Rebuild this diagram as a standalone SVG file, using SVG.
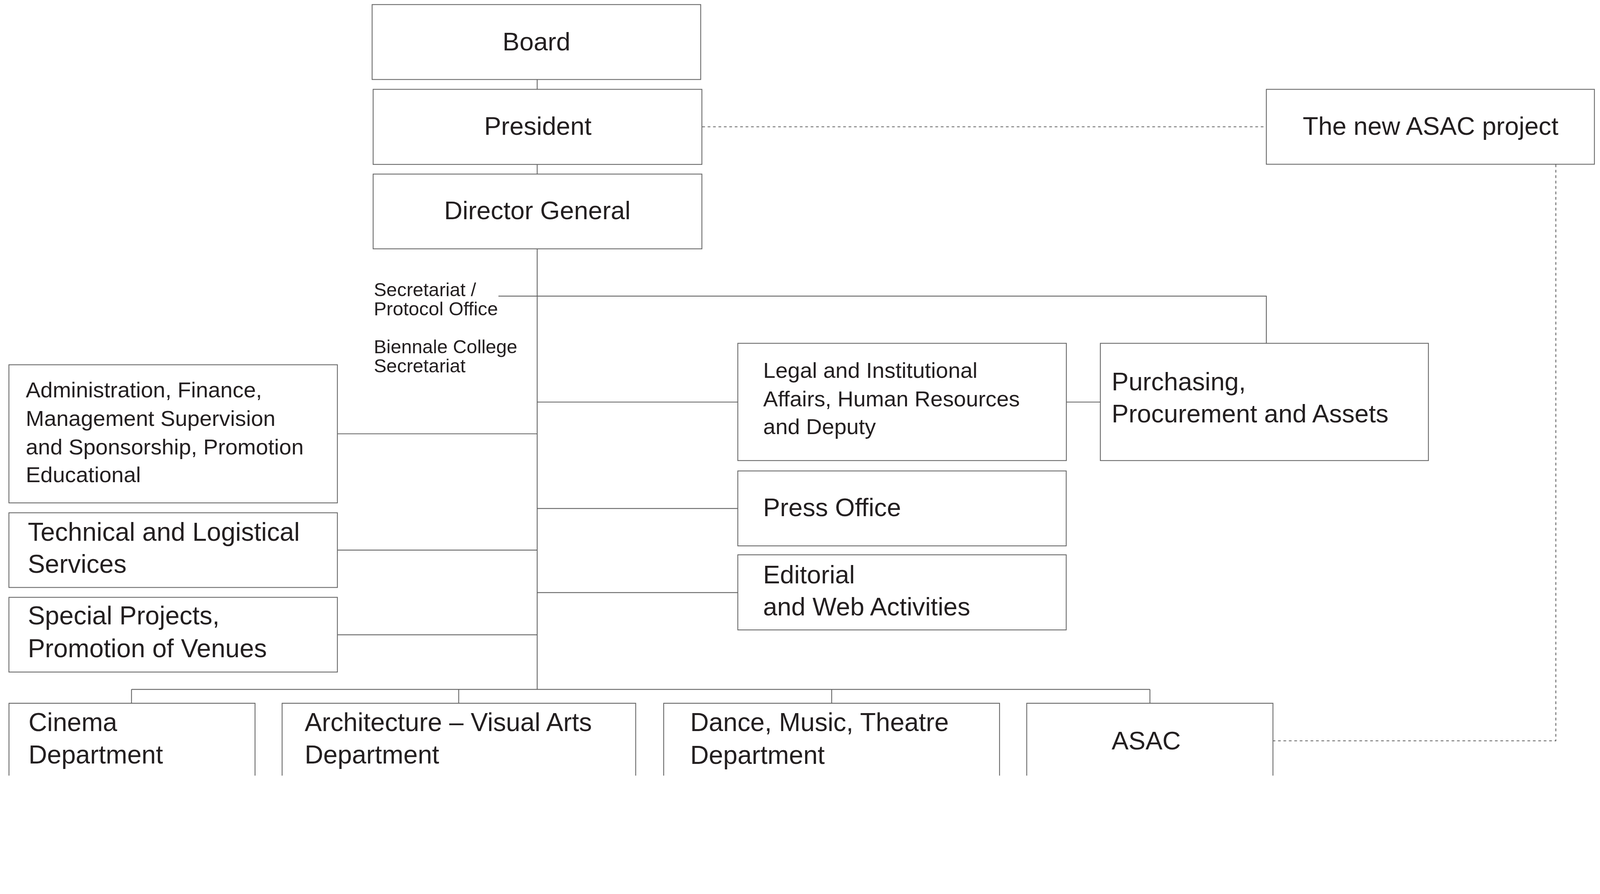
<svg xmlns="http://www.w3.org/2000/svg" width="4721" height="2288" viewBox="0 0 4721 2288" preserveAspectRatio="xMinYMin meet">
<style>
  svg:root { width: 100vw; height: 100vh; }
  .box { fill: #ffffff; stroke: #666666; stroke-width: 2.5; }
  .ln { fill: none; stroke: #626262; stroke-width: 2.5; }
  .dash { fill: none; stroke: #626262; stroke-width: 2.5; stroke-dasharray: 8 8; }
  text { font-family: "Liberation Sans", Arial, Helvetica, sans-serif; fill: #231f20; }
  .t75 { font-size: 75px; }
  .t76 { font-size: 76px; }
  .t65 { font-size: 65px; }
  .t55 { font-size: 56px; }
  .c { text-anchor: middle; }
</style>
<rect x="0" y="0" width="4721" height="2288" fill="#ffffff"/>

<g id="connectors">
  <line class="ln" x1="1585" y1="234.5" x2="1585" y2="263.5"/>
  <line class="ln" x1="1585" y1="485" x2="1585" y2="513.5"/>
  <line class="ln" x1="1585" y1="734" x2="1585" y2="2033.5"/>
  <polyline class="ln" points="1470.7,873.5 3736.5,873.5 3736.5,1012.7"/>
  <line class="ln" x1="995.5" y1="1279.7" x2="1585" y2="1279.7"/>
  <line class="ln" x1="995.5" y1="1622.7" x2="1585" y2="1622.7"/>
  <line class="ln" x1="995.5" y1="1872.5" x2="1585" y2="1872.5"/>
  <line class="ln" x1="1585" y1="1186" x2="2177" y2="1186"/>
  <line class="ln" x1="1585" y1="1500" x2="2177" y2="1500"/>
  <line class="ln" x1="1585" y1="1748" x2="2177" y2="1748"/>
  <line class="ln" x1="3146.4" y1="1186" x2="3246.7" y2="1186"/>
  <line class="ln" x1="388" y1="2033.5" x2="3393" y2="2033.5"/>
  <line class="ln" x1="388" y1="2033.5" x2="388" y2="2074.5"/>
  <line class="ln" x1="1353.5" y1="2033.5" x2="1353.5" y2="2074.5"/>
  <line class="ln" x1="2454" y1="2033.5" x2="2454" y2="2074.5"/>
  <line class="ln" x1="3393" y1="2033.5" x2="3393" y2="2074.5"/>
  <line class="dash" x1="2072" y1="374" x2="3736.5" y2="374"/>
  <polyline class="dash" points="4590.7,485 4590.7,2185.3 3756,2185.3"/>
</g>

<g id="board">
  <rect class="box" x="1098" y="13.5" width="969.5" height="221"/>
  <text class="t75 c" x="1583" y="149">Board</text>
</g>
<g id="president">
  <rect class="box" x="1101" y="263.5" width="970" height="221.5"/>
  <text class="t75 c" x="1587" y="398">President</text>
</g>
<g id="director-general">
  <rect class="box" x="1101" y="513.5" width="970" height="220.5"/>
  <text class="t75 c" x="1585.5" y="647">Director General</text>
</g>
<g id="new-asac-project">
  <rect class="box" x="3736.5" y="263.5" width="968" height="221"/>
  <text class="t75 c" x="4221" y="397.5">The new ASAC project</text>
</g>
<g id="secretariat">
  <text class="t55" x="1103" y="873.5">Secretariat /</text>
  <text class="t55" x="1103" y="930">Protocol Office</text>
  <text class="t55" x="1103" y="1042">Biennale College</text>
  <text class="t55" x="1103" y="1098">Secretariat</text>
</g>
<g id="administration">
  <rect class="box" x="26.3" y="1076" width="969.2" height="407.4"/>
  <text class="t65" x="76" y="1172.4">Administration, Finance,</text>
  <text class="t65" x="76" y="1256.8">Management Supervision</text>
  <text class="t65" x="76" y="1340.5">and Sponsorship, Promotion</text>
  <text class="t65" x="76" y="1422.6">Educational</text>
</g>
<g id="technical">
  <rect class="box" x="26.3" y="1512.6" width="969.2" height="220.3"/>
  <text class="t76" x="82" y="1594.8">Technical and Logistical</text>
  <text class="t76" x="82" y="1689.5">Services</text>
</g>
<g id="special-projects">
  <rect class="box" x="26.3" y="1762" width="969.2" height="220.4"/>
  <text class="t76" x="82" y="1842">Special Projects,</text>
  <text class="t76" x="82" y="1938.2">Promotion of Venues</text>
</g>
<g id="legal">
  <rect class="box" x="2177" y="1012.7" width="969.4" height="345.9"/>
  <text class="t65" x="2252" y="1115">Legal and Institutional</text>
  <text class="t65" x="2252" y="1198.5">Affairs, Human Resources</text>
  <text class="t65" x="2252" y="1281">and Deputy</text>
</g>
<g id="purchasing">
  <rect class="box" x="3246.7" y="1012.7" width="968" height="345.9"/>
  <text class="t75" x="3280" y="1151">Purchasing,</text>
  <text class="t75" x="3280" y="1246">Procurement and Assets</text>
</g>
<g id="press-office">
  <rect class="box" x="2177" y="1389.2" width="969" height="221"/>
  <text class="t75" x="2251.5" y="1522.3">Press Office</text>
</g>
<g id="editorial">
  <rect class="box" x="2177" y="1636.6" width="969" height="221.5"/>
  <text class="t75" x="2251.5" y="1720.4">Editorial</text>
  <text class="t75" x="2251.5" y="1815">and Web Activities</text>
</g>
<g id="cinema">
  <path class="box" d="M26.5,2288 V2074.5 H752.5 V2288"/>
  <text class="t76" x="84" y="2156">Cinema</text>
  <text class="t76" x="84" y="2251.7">Department</text>
</g>
<g id="architecture">
  <path class="box" d="M832.4,2288 V2074.5 H1875.7 V2288"/>
  <text class="t76" x="899" y="2156">Architecture – Visual Arts</text>
  <text class="t76" x="899" y="2251.7">Department</text>
</g>
<g id="dance">
  <path class="box" d="M1958.3,2288 V2074.5 H2949.3 V2288"/>
  <text class="t76" x="2036.6" y="2157">Dance, Music, Theatre</text>
  <text class="t76" x="2036.6" y="2253.7">Department</text>
</g>
<g id="asac">
  <path class="box" d="M3029.5,2288 V2074.5 H3756 V2288"/>
  <text class="t75 c" x="3382" y="2210.3">ASAC</text>
</g>
</svg>
